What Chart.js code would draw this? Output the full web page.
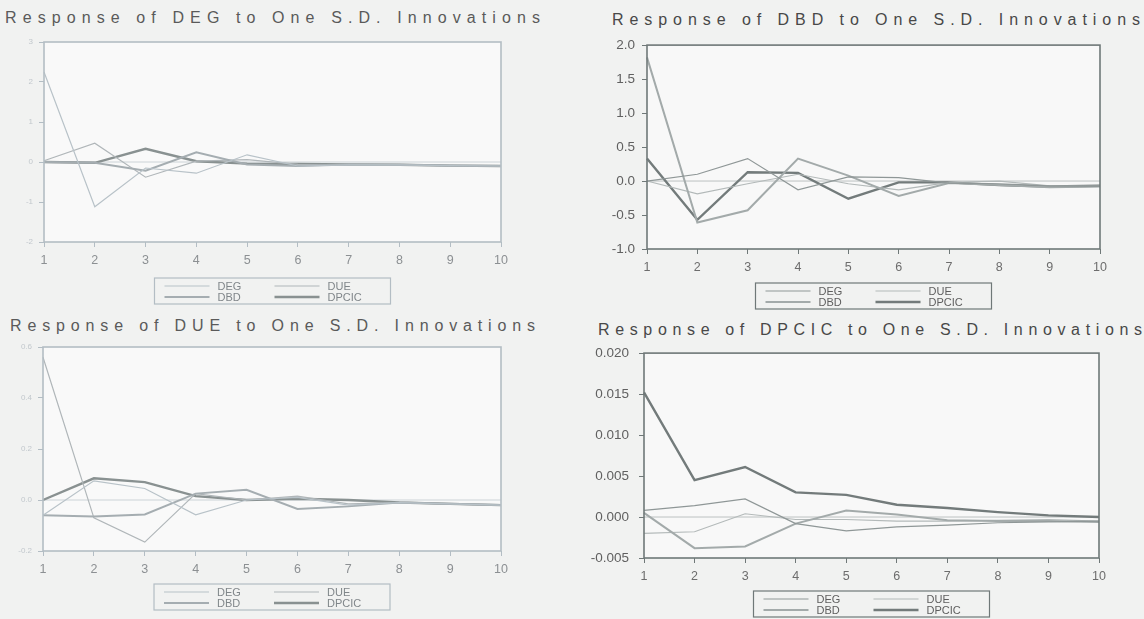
<!DOCTYPE html>
<html lang="en">
<head>
<meta charset="UTF-8">
<title>Impulse responses</title>
<script src="https://cdn.jsdelivr.net/npm/chart.js"></script>
<style>
  body { margin: 0; width: 1144px; height: 619px; overflow: hidden; position: relative;
         background: #f1f2f1; font-family: "Liberation Sans", Arial, sans-serif; }
  .titulo { position: absolute; font-size: 16px; color: #484848; white-space: nowrap; line-height: 18px; }
  canvas { position: absolute; }
</style>
</head>
<body>
<div class="titulo" data-ancho="535" style="left:5px; top:9px; color:#5a5a5a">Response of DEG to One S.D. Innovations</div>
<div class="titulo" data-ancho="528" style="left:612px; top:11px">Response of DBD to One S.D. Innovations</div>
<div class="titulo" data-ancho="525" style="left:10px; top:317px; color:#5a5a5a">Response of DUE to One S.D. Innovations</div>
<div class="titulo" data-ancho="544" style="left:598px; top:321px">Response of DPCIC to One S.D. Innovations</div>

<canvas id="g1" width="560" height="280" style="left:0; top:30px"></canvas>
<canvas id="g2" width="564" height="285" style="left:580px; top:30px"></canvas>
<canvas id="g3" width="560" height="284" style="left:0; top:335px"></canvas>
<canvas id="g4" width="564" height="284" style="left:580px; top:335px"></canvas>
<script>
    const periodos = ['1', '2', '3', '4', '5', '6', '7', '8', '9', '10'];
    const series = ['DEG', 'DBD', 'DUE', 'DPCIC'];

    // respuesta de DEG
    const degDEG   = [2.25, -1.12, -0.15, -0.28, 0.18, -0.10, -0.07, -0.07, -0.09, -0.10];
    const degDBD   = [0.00, -0.02, -0.22, 0.24, -0.06, -0.10, -0.06, -0.07, -0.09, -0.10];
    const degDUE   = [0.03, 0.47, -0.38, 0.02, 0.06, -0.06, -0.08, -0.07, -0.09, -0.10];
    const degDPCIC = [0.00, -0.02, 0.33, 0.02, -0.04, -0.05, -0.06, -0.07, -0.09, -0.10];

    // respuesta de DBD
    const dbdDEG   = [0.00, 0.10, 0.33, -0.13, 0.06, 0.05, -0.03, -0.04, -0.07, -0.08];
    const dbdDBD   = [1.82, -0.61, -0.43, 0.33, 0.08, -0.22, -0.03, -0.06, -0.09, -0.08];
    const dbdDUE   = [0.00, -0.19, -0.04, 0.10, -0.04, -0.13, -0.02, 0.00, -0.07, -0.08];
    const dbdDPCIC = [0.33, -0.57, 0.13, 0.12, -0.26, -0.02, -0.02, -0.06, -0.08, -0.07];

    // respuesta de DUE
    const dueDEG   = [-0.06, 0.075, 0.045, -0.058, 0.0, 0.01, -0.02, -0.01, -0.015, -0.02];
    const dueDBD   = [-0.06, -0.065, -0.057, 0.025, 0.04, -0.035, -0.025, -0.01, -0.015, -0.02];
    const dueDUE   = [0.56, -0.07, -0.165, 0.025, 0.0, 0.015, -0.015, -0.01, -0.015, -0.02];
    const dueDPCIC = [0.0, 0.085, 0.07, 0.015, 0.0, 0.005, 0.0, -0.01, -0.015, -0.02];

    // respuesta de DPCIC
    const dpcicDEG   = [0.0008, 0.0014, 0.0022, -0.0008, -0.0017, -0.0012, -0.0010, -0.0007, -0.0006, -0.0005];
    const dpcicDBD   = [0.0005, -0.0038, -0.0036, -0.0008, 0.0008, 0.0003, -0.0004, -0.0005, -0.0005, -0.0006];
    const dpcicDUE   = [-0.0020, -0.0018, 0.0004, -0.0003, -0.0003, -0.0005, -0.0005, -0.0004, -0.0003, -0.0005];
    const dpcicDPCIC = [0.0152, 0.0045, 0.0061, 0.0030, 0.0027, 0.0015, 0.0011, 0.0006, 0.0002, 0.0000];

    // ticks del eje Y
    const ticksDEG   = [-2, -1, 0, 1, 2, 3];
    const ticksDBD   = [-1.0, -0.5, 0.0, 0.5, 1.0, 1.5, 2.0];
    const ticksDUE   = [-0.2, 0.0, 0.2, 0.4, 0.6];
    const ticksDPCIC = [-0.005, 0.000, 0.005, 0.010, 0.015, 0.020];

    // ajustar el espaciado de los titulos al ancho de la foto
    document.querySelectorAll('.titulo').forEach(t => {
        const natural = t.getBoundingClientRect().width;
        const n = t.textContent.length - 1;
        t.style.letterSpacing = ((Number(t.dataset.ancho) - natural) / n) + 'px';
    });

    const claro = { eje: '#b3bdc4', cero: '#ccd3d7', fondo: '#f9f9f9', xTick: '#8c9093', yTick: '#c2c8cd', yFont: 8,
                    lineas: ['#b8c2c8', '#a5adb1', '#b0b6b9', '#899191'], leyenda: '#80868a' };
    const oscuro = { eje: '#6f7878', cero: '#bcc2c2', fondo: '#f8f8f8', xTick: '#6d6d6d', yTick: '#606060', yFont: 13.5,
                    lineas: ['#8f9797', '#a3aaaa', '#b3b9b9', '#737b7b'], leyenda: '#5e5e5e' };
    const grosores = [1.2, 2, 1.2, 2.4];

    // caja del grafico, linea en cero y leyenda
    const marco = {
        id: 'marco',
        beforeDraw(chart, args, opts) {
            const { ctx, chartArea: a } = chart;
            ctx.save();
            ctx.fillStyle = opts.fondo;
            ctx.fillRect(a.left, a.top, a.right - a.left, a.bottom - a.top);
            ctx.restore();
        },
        beforeDatasetsDraw(chart, args, opts) {
            const { ctx, chartArea: a } = chart;
            const y0 = chart.scales.y.getPixelForValue(0);
            ctx.save();
            ctx.strokeStyle = opts.cero;
            ctx.lineWidth = 1;
            ctx.beginPath();
            ctx.moveTo(a.left, y0);
            ctx.lineTo(a.right, y0);
            ctx.stroke();
            ctx.restore();
        },
        afterDraw(chart, args, opts) {
            const { ctx, chartArea: a } = chart;
            ctx.save();
            ctx.strokeStyle = opts.eje;
            ctx.lineWidth = 1.6;
            ctx.strokeRect(a.left, a.top, a.right - a.left, a.bottom - a.top);

            // leyenda con borde
            const w = 236, h = 26;
            const x0 = (a.left + a.right) / 2 - w / 2, y0 = opts.leyendaTop;
            ctx.lineWidth = 1.2;
            ctx.strokeRect(x0, y0, w, h);
            const pos = [[0, 0], [0, 1], [1, 0], [1, 1]];
            chart.data.datasets.forEach((ds, i) => {
                const lx = x0 + 10 + pos[i][0] * 110;
                const ly = y0 + 8 + pos[i][1] * 11;
                ctx.beginPath();
                ctx.strokeStyle = ds.borderColor;
                ctx.lineWidth = ds.borderWidth;
                ctx.moveTo(lx, ly);
                ctx.lineTo(lx + 45, ly);
                ctx.stroke();
                ctx.fillStyle = opts.texto;
                ctx.font = '11px "Liberation Sans", Arial';
                ctx.textBaseline = 'middle';
                ctx.fillText(ds.label, lx + 53, ly + 1);
            });
            ctx.restore();
        }
    };

    function grafica(id, datos, ticksY, decimales, tema, caja) {
        new Chart(document.getElementById(id), {
            type: 'line',
            data: {
                labels: periodos,
                datasets: datos.map((d, i) => ({
                    label: series[i],
                    data: d,
                    borderColor: tema.lineas[i],
                    borderWidth: grosores[i],
                    pointRadius: 0,
                    tension: 0
                }))
            },
            options: {
                responsive: false,
                animation: false,
                layout: { padding: { left: 0, top: caja.top, right: caja.right, bottom: caja.bottom } },
                plugins: {
                    legend: { display: false },
                    tooltip: { enabled: false },
                    marco: { eje: tema.eje, cero: tema.cero, fondo: tema.fondo, texto: tema.leyenda, leyendaTop: caja.leyenda }
                },
                scales: {
                    x: {
                        offset: false,
                        grid: { drawOnChartArea: false, color: tema.eje, tickLength: 5 },
                        border: { display: false },
                        ticks: { color: tema.xTick, font: { size: 12.5 }, maxRotation: 0, autoSkip: false, padding: 6 },
                        afterFit: s => { s.height = 30; }
                    },
                    y: {
                        min: ticksY[0],
                        max: ticksY[ticksY.length - 1],
                        afterBuildTicks: s => { s.ticks = ticksY.map(v => ({ value: v })); },
                        grid: { drawOnChartArea: false, color: tema.eje, tickLength: 5 },
                        border: { display: false },
                        ticks: { color: tema.yTick, font: { size: tema.yFont }, padding: caja.yPad,
                                 callback: v => Number(v).toFixed(decimales) },
                        afterFit: s => { s.width = caja.yAncho; }
                    }
                }
            },
            plugins: [marco]
        });
    }

    grafica('g1', [degDEG, degDBD, degDUE, degDPCIC], ticksDEG, 0, claro,
        { top: 12, right: 59, bottom: 38, yAncho: 44, yPad: 6, leyenda: 248 });
    grafica('g2', [dbdDEG, dbdDBD, dbdDUE, dbdDPCIC], ticksDBD, 1, oscuro,
        { top: 15, right: 44, bottom: 36, yAncho: 67, yPad: 7, leyenda: 253 });
    grafica('g3', [dueDEG, dueDBD, dueDUE, dueDPCIC], ticksDUE, 1, claro,
        { top: 12, right: 59, bottom: 38, yAncho: 43, yPad: 6, leyenda: 249 });
    grafica('g4', [dpcicDEG, dpcicDBD, dpcicDUE, dpcicDPCIC], ticksDPCIC, 3, oscuro,
        { top: 18, right: 45, bottom: 31, yAncho: 64, yPad: 10, leyenda: 256 });
</script>
</body>
</html>
